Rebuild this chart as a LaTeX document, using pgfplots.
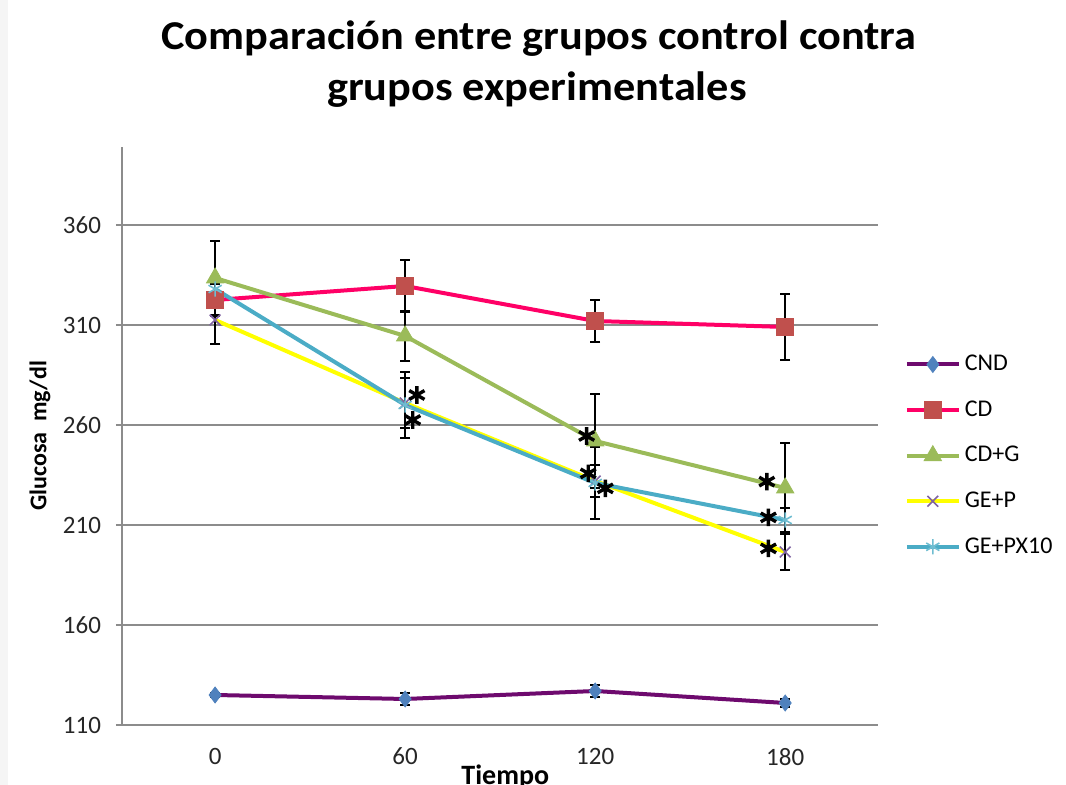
\documentclass[border=0pt]{standalone}
\usepackage{fontspec}
\setmainfont{Carlito}
\usepackage{pgfplots}
\pgfplotsset{compat=1.18}
\usepackage{pgfplotstable}

\definecolor{cndline}{HTML}{6E0A6E}
\definecolor{cndmark}{HTML}{4F81BD}
\definecolor{cdline}{HTML}{FF0066}
\definecolor{cdmark}{HTML}{C0504D}
\definecolor{cdg}{HTML}{9BBB59}
\definecolor{gepline}{HTML}{FFFF00}
\definecolor{gepmark}{HTML}{8064A2}
\definecolor{gepx}{HTML}{4BACC6}
\definecolor{gridc}{HTML}{8C8C8C}

\pgfplotstableread{
x y e
0 125 1
60 123 3
120 127 3
180 121 2
}\tCND
\pgfplotstableread{
x y e
0 322.5 8
60 329.5 13
120 312 10.5
180 309 16.5
}\tCD
\pgfplotstableread{
x y e
0 333.5 18.5
60 304.5 12.5
120 252 23.5
180 228.5 22.5
}\tCDG
\pgfplotstableread{
x y e
0 312.5 12
60 271 12.5
120 232 8
180 196.5 9
}\tGEP
\pgfplotstableread{
x y e
0 328 6
60 270 16.5
120 231 18
180 212.5 6
}\tGEPX
\pgfplotstableread{
x y
63.7 275
62.4 262.5
117.3 254.5
117.8 235.8
123.2 228.3
174.2 231.7
174.7 213.8
174.7 198.3
}\tStars

\begin{document}
\begin{tikzpicture}
\path[use as bounding box] (-61pt,-30pt) rectangle (472pt,362.5pt);
\fill[gray!8] (-61pt,-30pt) rectangle (-57pt,362.5pt);
\node[font=\bfseries\fontsize{20.5}{24}\selectfont, anchor=base] at (208.5pt,337.5pt) {\scalebox{1.08}[1]{Comparación entre grupos control contra}};
\node[font=\bfseries\fontsize{20.5}{24}\selectfont, anchor=base] at (207.5pt,312pt) {\scalebox{1.08}[1]{grupos experimentales}};
\begin{axis}[
  scale only axis, width=378pt, height=289pt,
  at={(0,0)}, anchor=south west,
  xmin=-29.4, xmax=209.3, ymin=110, ymax=399,
  xtick={0,60,120,180}, ytick={110,160,210,260,310,360},
  axis lines=left,
  axis line style={-, draw=gridc, line width=0.6pt},
  ymajorgrids, grid style={draw=gridc, line width=0.6pt},
  x tick style={draw=none},
  y tick style={draw=gridc, line width=0.6pt},
  tick align=outside, major tick length=3pt,
  /pgf/number format/assume math mode=true,
  tick label style={font=\fontsize{12.5}{14}\selectfont, text=black!85},
  xticklabel style={yshift=-5pt},
  yticklabel style={xshift=-4pt},
  xlabel={Tiempo},
  xlabel style={at={(axis description cs:0.507,0)}, anchor=base, yshift=-30pt, font=\bfseries\fontsize{14}{16}\selectfont},
  ylabel={Glucosa\ \ mg/dl},
  ylabel style={at={(axis description cs:-0.1085,0.5)}, anchor=center, font=\bfseries\fontsize{12}{14}\selectfont},
  legend style={at={(1.027,0.466)}, anchor=west, draw=none, fill=none, font=\fontsize{12}{14}\selectfont, row sep=9.5pt},
  legend cell align=left,
  legend image code/.code={\draw[mark repeat=2, mark phase=2] plot coordinates {(0pt,0pt) (13pt,0pt) (26pt,0pt)};},
  every axis plot/.append style={line width=2pt},
  error bars/error bar style={black, line width=0.8pt},
  error bars/error mark options={black, rotate=90, mark size=2.5pt, line width=0.8pt},
]
\addplot[cndline, mark=diamond*, mark size=4pt, mark options={fill=cndmark, draw=cndmark, line width=0.4pt},
  error bars/.cd, y dir=both, y explicit] table[x=x, y=y, y error=e]{\tCND};
\addlegendentry{CND}
\addplot[cdline, mark=square*, mark size=4.3pt, mark options={fill=cdmark, draw=cdmark, line width=0.4pt},
  error bars/.cd, y dir=both, y explicit] table[x=x, y=y, y error=e]{\tCD};
\addlegendentry{CD}
\addplot[cdg, mark=triangle*, mark size=5pt, mark options={fill=cdg, draw=cdg, line width=0.4pt},
  error bars/.cd, y dir=both, y explicit] table[x=x, y=y, y error=e]{\tCDG};
\addlegendentry{CD+G}
\addplot[gepline, mark=x, mark size=3.8pt, mark options={draw=gepmark, line width=0.8pt},
  error bars/.cd, y dir=both, y explicit] table[x=x, y=y, y error=e]{\tGEP};
\addlegendentry{GE+P}
\addplot[gepx, mark=asterisk, mark size=3.8pt, mark options={draw=gepx!80!white, line width=0.8pt},
  error bars/.cd, y dir=both, y explicit] table[x=x, y=y, y error=e]{\tGEPX};
\addlegendentry{GE+PX10}
\addplot[only marks, mark=asterisk, mark size=4.4pt, mark options={black, line width=1.7pt}, forget plot] table[x=x, y=y]{\tStars};
\end{axis}
\end{tikzpicture}
\end{document}
